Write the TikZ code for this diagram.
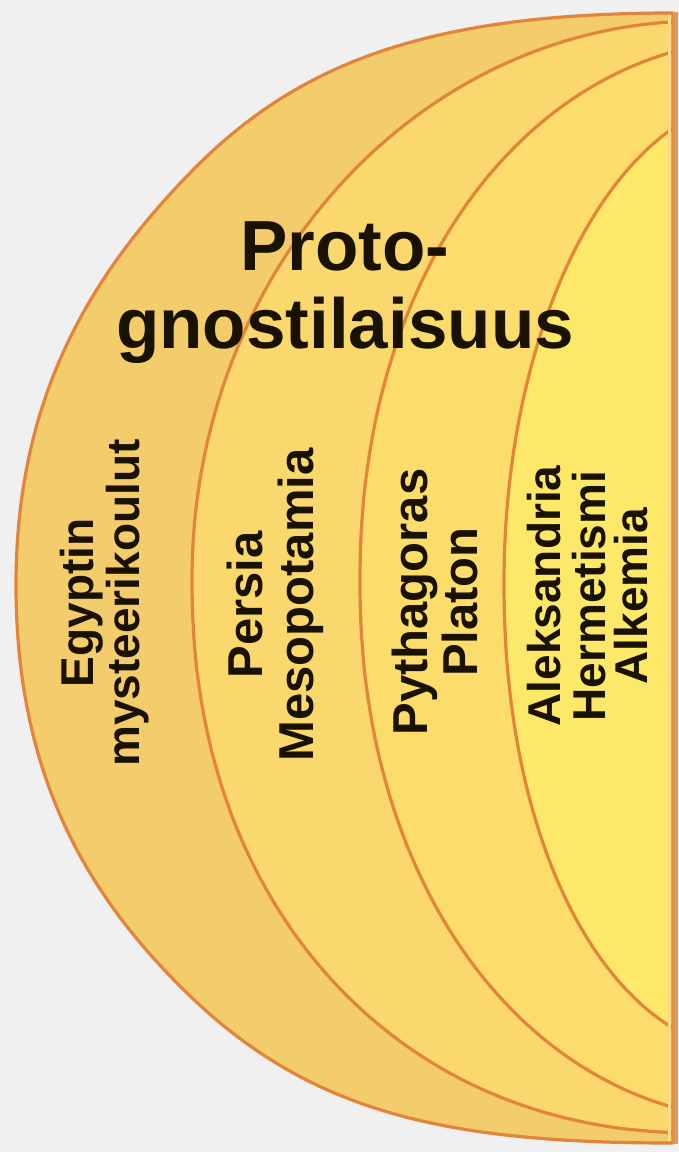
\documentclass[tikz,border=0pt]{standalone}
\usepackage{fontspec}
\setmainfont{Liberation Sans}
\definecolor{bg}{HTML}{F0F0F0}
\definecolor{bandA}{HTML}{F3CC6C}
\definecolor{bandB}{HTML}{FAD86D}
\definecolor{bandC}{HTML}{FCDD6C}
\definecolor{bandD}{HTML}{FEE869}
\definecolor{ringline}{HTML}{E2843A}
\definecolor{edgeline}{HTML}{D69C55}
\definecolor{edgelight}{HTML}{FDD98A}
\definecolor{ink}{HTML}{1A1200}
\begin{document}
\begin{tikzpicture}[x=1pt,y=-1pt]
\tikzset{
  ring/.style={draw=ringline, line width=3.2pt, line join=round},
  titletext/.style={font=\fontsize{71}{78}\selectfont\bfseries, text=ink, inner sep=0pt, anchor=base},
  vlabel/.style={font=\fontsize{46}{48}\selectfont\bfseries, text=ink, inner sep=0pt, rotate=90, anchor=base},
  vlabelbig/.style={vlabel, font=\fontsize{49}{50}\selectfont\bfseries}
}
\useasboundingbox (0,0) rectangle (679,1152);
\fill[bg] (0,0) rectangle (679,1152);
% outer ring
\path[ring, fill=bandA] (673,13) .. controls (423,13) and (294.6,65.5) .. (190,173)
  .. controls (92.4,273.4) and (16,395) .. (16,585)
  .. controls (16,775) and (86.8,895.3) .. (187,993)
  .. controls (308.7,1111.7) and (443,1143) .. (673,1143) -- cycle;
% second ring
\path[ring, fill=bandB]
  plot[domain=3.05:89.5, samples=70, variable=\s] ({700-508*sin(\s)}, {578-557*cos(\s)})
  -- (192,578)
  -- plot[domain=89.5:2.44, samples=70, variable=\s] ({700-508*pow(sin(\s),0.9302)}, {578+555*pow(cos(\s),0.9302)})
  -- cycle;
% third ring
\path[ring, fill=bandC]
  plot[domain=13.24:89.5, samples=70, variable=\s] ({775-415*pow(sin(\s),0.9524)}, {581-543*pow(cos(\s),0.9524)})
  -- (360,581)
  -- plot[domain=89.5:13.24, samples=70, variable=\s] ({775-415*pow(sin(\s),0.9524)}, {581+540*pow(cos(\s),0.9524)})
  -- cycle;
% inner ring
\path[ring, fill=bandD]
  plot[domain=20.64:89.5, samples=70, variable=\s] ({765-261*sin(\s)}, {582-485*cos(\s)})
  -- (504,582)
  -- plot[domain=89.5:19.55, samples=70, variable=\s] ({765-261*pow(sin(\s),0.9524)}, {582+472*pow(cos(\s),0.9524)})
  -- cycle;
% right edge
\draw[edgelight, line width=3pt] (669.5,15) -- (669.5,1141);
\draw[edgeline, line width=5pt] (675,12) -- (675,1144);
% title
\node[titletext] (t1) at (345,270) {Proto-};
\node[titletext] (t2) at (345,348) {gnostilaisuus};
% vertical labels
\node[vlabel] (e1) at (93,603) {Egyptin};
\node[vlabel] (e2) at (139,603) {mysteerikoulut};
\node[vlabelbig] (p1) at (262,605) {Persia};
\node[vlabelbig] (p2) at (313,605) {Mesopotamia};
\node[vlabelbig] (y1) at (427,602) {Pythagoras};
\node[vlabelbig] (y2) at (477,602) {Platon};
\node[vlabel] (a1) at (560,596) {Aleksandria};
\node[vlabel] (a2) at (605,596) {Hermetismi};
\node[vlabel] (a3) at (647,596) {Alkemia};
\end{tikzpicture}
\end{document}
